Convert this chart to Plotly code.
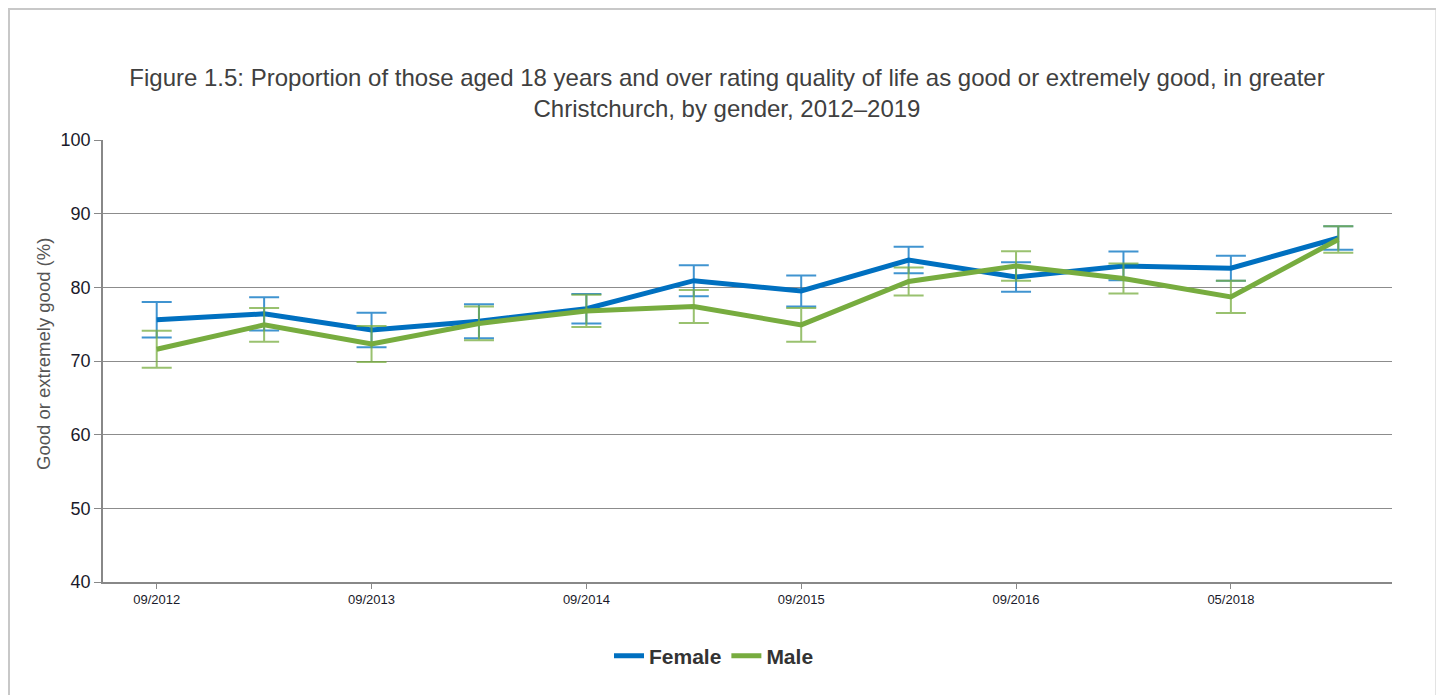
import plotly.graph_objects as go

categories = ["09/2012", "04/2013", "09/2013", "02/2014", "09/2014", "03/2015",
              "09/2015", "03/2016", "09/2016", "05/2017", "05/2018", "05/2019"]
shown_ticks = ["09/2012", "09/2013", "09/2014", "09/2015", "09/2016", "05/2018"]

female = [75.6, 76.4, 74.2, 75.4, 77.1, 80.9, 79.5, 83.7, 81.4, 82.9, 82.6, 86.7]
female_err = [2.4, 2.25, 2.35, 2.3, 2.0, 2.1, 2.1, 1.8, 2.0, 1.95, 1.7, 1.6]
male = [71.6, 74.9, 72.3, 75.1, 76.8, 77.4, 74.9, 80.8, 82.9, 81.2, 78.7, 86.5]
male_err = [2.5, 2.3, 2.45, 2.3, 2.2, 2.25, 2.3, 1.9, 2.0, 2.05, 2.2, 1.8]

FEMALE_COL = "#0070C0"
MALE_COL = "#77AC3F"

fig = go.Figure()
fig.add_trace(go.Scatter(
    x=categories, y=female, name="Female", mode="lines",
    line=dict(color=FEMALE_COL, width=5),
    error_y=dict(type="data", array=female_err, visible=True,
                 color="rgba(0,112,192,0.75)", thickness=2, width=15),
))
fig.add_trace(go.Scatter(
    x=categories, y=male, name="Male", mode="lines",
    line=dict(color=MALE_COL, width=5),
    error_y=dict(type="data", array=male_err, visible=True,
                 color="rgba(119,172,63,0.75)", thickness=2, width=15),
))

OFF = 8  # page body margin
SW, SH = 1444, 695
W, H = SW - OFF, SH - OFF
# plot area in screen pixels
PL, PR, PT, PB = 103, 1392, 140, 582
L, T = PL - OFF, PT - OFF
R, B = W - (PR - OFF), H - (PB - OFF)
pw, ph = PR - PL, PB - PT

def px_x(p):
    return (p - PL) / pw

def px_y(p):
    return (PB - p) / ph

fig.add_shape(type="rect", xref="paper", yref="paper",
              x0=px_x(9), x1=px_x(1436.5), y0=px_y(730), y1=px_y(9),
              line=dict(color="#C8C8C8", width=2), fillcolor="rgba(0,0,0,0)",
              layer="below")

fig.add_annotation(
    text="Good or extremely good (%)", textangle=-90,
    xref="paper", yref="paper", x=px_x(43), y=px_y(354),
    xanchor="center", yanchor="middle", showarrow=False,
    font=dict(size=18.5, color="#555555", family="Liberation Sans, Arial, sans-serif"),
)

fig.update_layout(
    width=W, height=H,
    margin=dict(l=L, r=R, t=T, b=B),
    paper_bgcolor="white", plot_bgcolor="white",
    font=dict(family="Liberation Sans, Arial, sans-serif", color="#333333"),
    title=dict(
        text="Figure 1.5: Proportion of those aged 18 years and over rating quality of life as good or extremely good, in greater<br>Christchurch, by gender, 2012–2019",
        xref="container", yref="container",
        x=(727 - OFF) / W, xanchor="center", y=1 - (86 - OFF) / H, yanchor="middle",
        font=dict(size=24, color="#404040"),
    ),
    xaxis=dict(
        type="category", categoryorder="array", categoryarray=categories,
        range=[-0.5, len(categories) - 0.5],
        tickmode="array", tickvals=shown_ticks, ticktext=shown_ticks,
        ticks="outside", ticklen=5, tickcolor="#888888",
        showline=True, linecolor="#888888", linewidth=1.5,
        showgrid=False, tickfont=dict(size=13, color="#1a1a2a"),
    ),
    yaxis=dict(
        range=[40, 100], tickvals=[40, 50, 60, 70, 80, 90, 100],
        ticks="outside", ticklen=7, tickcolor="#888888",
        showline=True, linecolor="#888888", linewidth=1.5,
        showgrid=True, gridcolor="#8c8c8c", gridwidth=1,
        tickfont=dict(size=18, color="#1a1a2a"),
        zeroline=False,
    ),
    legend=dict(orientation="h", x=px_x(714), xanchor="center",
                y=px_y(656), yanchor="middle",
                font=dict(size=21, color="#333333", family="Liberation Sans, Arial, sans-serif",
                          weight="bold"),
                itemwidth=30, traceorder="normal"),
    showlegend=True,
)

fig.write_html("out.html")
